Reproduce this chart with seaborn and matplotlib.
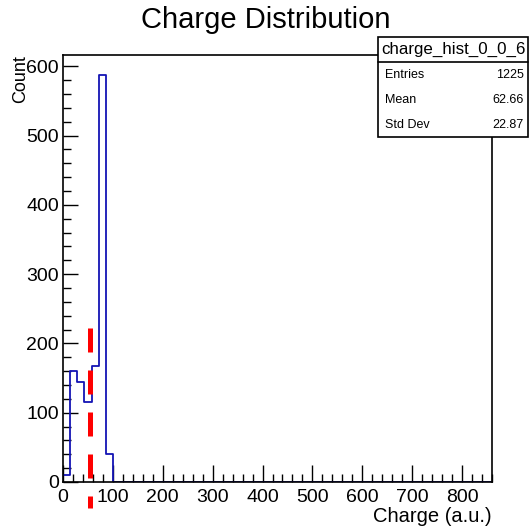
# ROOT-style charge histogram redrawn with seaborn

import numpy as np
import pandas as pd
import seaborn as sns
import matplotlib.pyplot as plt
from matplotlib.patches import Rectangle
from matplotlib.ticker import MultipleLocator

# Histogram contents (first bins of a 60-bin histogram over 0-860)
bin_counts = [10, 160, 145, 115, 168, 587, 40]
n_bins = 60
x_max = 860
cut_value = 55
cut_span = [222, -38]

hist_name = "charge_hist_0_0_6"
stat_labels = ["Entries", "Mean", "Std Dev"]
stat_values = ["1225", "62.66", "22.87"]

sns.set_style("ticks")
plt.rcParams['font.family'] = ['Liberation Sans', 'DejaVu Sans']
plt.rcParams['text.color'] = 'black'
plt.rcParams['xtick.color'] = 'black'
plt.rcParams['ytick.color'] = 'black'
plt.rcParams['axes.edgecolor'] = 'black'

edges = np.linspace(0, x_max, n_bins + 1)
centers = (edges[:-1] + edges[1:]) / 2
weights = np.zeros(n_bins)
weights[:len(bin_counts)] = bin_counts
hist_df = pd.DataFrame({'charge': centers, 'count': weights})

fig = plt.figure(figsize=(5.3, 5.28), dpi=100)
ax = fig.add_axes([63 / 530, 1 - 482 / 528, (492 - 63) / 530, (482 - 55) / 528])

sns.histplot(data=hist_df, x='charge', weights='count', bins=n_bins, binrange=(0, x_max),
             element='step', fill=False, color='#1414b4', linewidth=1.3, ax=ax)

ax.plot([cut_value, cut_value], cut_span, color='#ff0000', linewidth=3.6,
        dashes=(4.8, 3.6), clip_on=False, zorder=5)

ax.set_xlim(0, x_max)
ax.set_ylim(0, max(bin_counts) * 1.05)
ax.set_xlabel('')
ax.set_ylabel('')

ax.xaxis.set_major_locator(MultipleLocator(100))
ax.xaxis.set_minor_locator(MultipleLocator(20))
ax.yaxis.set_major_locator(MultipleLocator(100))
ax.yaxis.set_minor_locator(MultipleLocator(20))
ax.tick_params(which='both', direction='in', top=False, right=False, labelsize=14, width=1)
ax.tick_params(axis='x', which='major', length=12, pad=5)
ax.tick_params(axis='x', which='minor', length=6)
ax.tick_params(axis='y', which='major', length=11, pad=3)
ax.tick_params(axis='y', which='minor', length=6)
for spine in ax.spines.values():
    spine.set_visible(True)
    spine.set_linewidth(1.2)

fig.text(266 / 530, 1 - 20 / 528, 'Charge Distribution', ha='center', va='center', fontsize=21)
fig.text(492 / 530, 1 - 517 / 528, 'Charge (a.u.)', ha='right', va='center', fontsize=14.5)
fig.text(21 / 530, 1 - 55 / 528, 'Count', rotation=90, ha='center', va='top', fontsize=13)

# Stats box
bx0, bx1 = 378 / 530, 528 / 530
by0, by1 = 1 - 137 / 528, 1 - 37 / 528
fig.patches.append(Rectangle((bx0, by0), bx1 - bx0, by1 - by0, transform=fig.transFigure,
                             facecolor='white', edgecolor='black', linewidth=1.2, zorder=10))
fig.lines.append(plt.Line2D([bx0, bx1], [1 - 62 / 528] * 2, transform=fig.transFigure,
                            color='black', linewidth=1.2, zorder=11))
fig.text((bx0 + bx1) / 2, 1 - 49 / 528, hist_name, ha='center', va='center', fontsize=12.2, zorder=12)
for i, (lab, val) in enumerate(zip(stat_labels, stat_values)):
    y = 1 - (75 + 25 * i) / 528
    fig.text(385 / 530, y, lab, ha='left', va='center', fontsize=9, zorder=12)
    fig.text(524 / 530, y, val, ha='right', va='center', fontsize=9, zorder=12)

fig.savefig('out.png', dpi=100)
